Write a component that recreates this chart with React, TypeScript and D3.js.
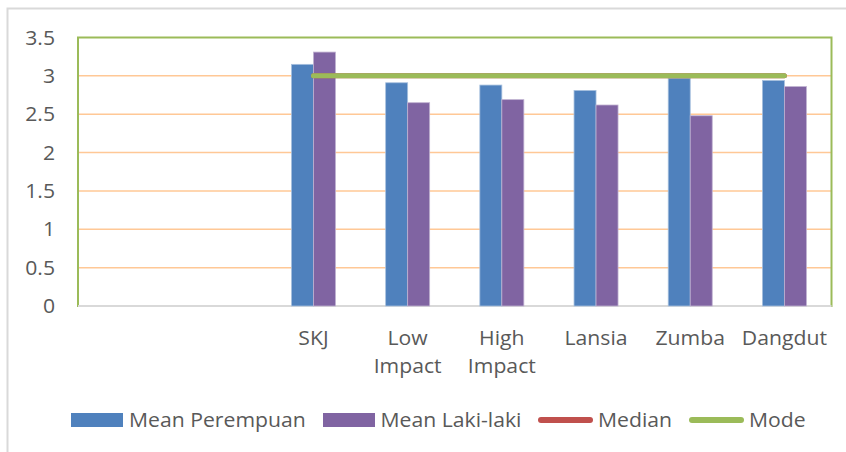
import * as d3 from "d3"

const categories = ["", "", "SKJ", "Low Impact", "High Impact", "Lansia", "Zumba", "Dangdut"]
const meanPerempuan = [null, null, 3.15, 2.91, 2.88, 2.81, 2.97, 2.94]
const meanLakiLaki = [null, null, 3.31, 2.65, 2.69, 2.62, 2.48, 2.86]
const median = [null, null, 3, 3, 3, 3, 3, 3]
const mode = [null, null, 3, 3, 3, 3, 3, 3]
const yTicks = [0, 0.5, 1, 1.5, 2, 2.5, 3, 3.5]

const W = 846
const H = 452
const PLOT = { left: 78, top: 37.5, right: 831.5, bottom: 306 }
const FONT = "'Open Sans', sans-serif"
const FS = 20
const TEXT = "#595959"
const BLUE = "#4F81BD"
const PURPLE = "#8064A2"
const RED = "#C0504D"
const GREEN = "#9BBB59"
const GRID = "#FFC896"

const legendItems = [
  { label: "Mean Perempuan", color: BLUE, kind: "bar", x: 71, tx: 129 },
  { label: "Mean Laki-laki", color: PURPLE, kind: "bar", x: 323, tx: 380.5 },
  { label: "Median", color: RED, kind: "line", x: 538, tx: 598 },
  { label: "Mode", color: GREEN, kind: "line", x: 689, tx: 749 },
]

// stretched text, the original is a touch wider than Open Sans
const T = ({ x, y, anchor = "start", children }: { x: number; y: number; anchor?: string; children: any }) => (
  <text
    transform={`translate(${x},${y}) scale(1.06,1)`}
    dy="0.35em"
    textAnchor={anchor}
    fontFamily={FONT}
    fontSize={FS}
    fill={TEXT}
  >
    {children}
  </text>
)

export default function App() {
  const x = d3.scaleBand<string>()
    .domain(categories.map((_, i) => String(i)))
    .range([PLOT.left, PLOT.right])
  const y = d3.scaleLinear().domain([0, 3.5]).range([PLOT.bottom, PLOT.top])
  const bw = 22

  const lineGen = d3.line<number | null>()
    .defined((d) => d !== null)
    .x((_, i) => x(String(i))! + x.bandwidth() / 2)
    .y((d) => y(d as number))

  return (
    <svg width={W} height={H} style={{ position: "absolute", left: 0, top: 0 }}>
      <rect x={0} y={0} width={W} height={H} fill="#fff" />
      <path d={`M7.5,${H}V8.5H${W}`} fill="none" stroke="#D9D9D9" strokeWidth={2} />

      {yTicks.slice(1, -1).map((t) => (
        <line key={t} x1={PLOT.left} x2={PLOT.right} y1={y(t)} y2={y(t)} stroke={GRID} strokeWidth={1.5} />
      ))}

      <rect x={PLOT.left} y={PLOT.top} width={PLOT.right - PLOT.left} height={PLOT.bottom - PLOT.top}
        fill="none" stroke={GREEN} strokeWidth={2} />
      <line x1={PLOT.left} x2={PLOT.right} y1={PLOT.bottom} y2={PLOT.bottom} stroke="#D9D9D9" strokeWidth={2} />

      {yTicks.map((t) => (
        <T key={t} x={55} y={y(t)} anchor="end">{t}</T>
      ))}

      {categories.map((c, i) => {
        const cx = x(String(i))! + x.bandwidth() / 2
        const a = meanPerempuan[i]
        const b = meanLakiLaki[i]
        return (
          <g key={i}>
            {a !== null && (
              <rect x={cx - bw} y={y(a)} width={bw} height={y(0) - y(a)} fill={BLUE} stroke="#A7C0DE" strokeWidth={0.8} />
            )}
            {b !== null && (
              <rect x={cx} y={y(b)} width={bw} height={y(0) - y(b)} fill={PURPLE} stroke="#BFB1D0" strokeWidth={0.8} />
            )}
            {c.split(" ").map((w, k) => (
              <T key={k} x={cx} y={338 + k * 28} anchor="middle">{w}</T>
            ))}
          </g>
        )
      })}

      <path d={lineGen(median) ?? ""} fill="none" stroke={RED} strokeWidth={5} strokeLinecap="round" />
      <path d={lineGen(mode) ?? ""} fill="none" stroke={GREEN} strokeWidth={5} strokeLinecap="round" />

      {legendItems.map((it) => (
        <g key={it.label}>
          {it.kind === "bar" ? (
            <rect x={it.x} y={413} width={52} height={14} fill={it.color} />
          ) : (
            <line x1={it.x + 3} x2={it.x + 52} y1={420} y2={420} stroke={it.color} strokeWidth={6} strokeLinecap="round" />
          )}
          <T x={it.tx} y={420}>{it.label}</T>
        </g>
      ))}
    </svg>
  )
}
